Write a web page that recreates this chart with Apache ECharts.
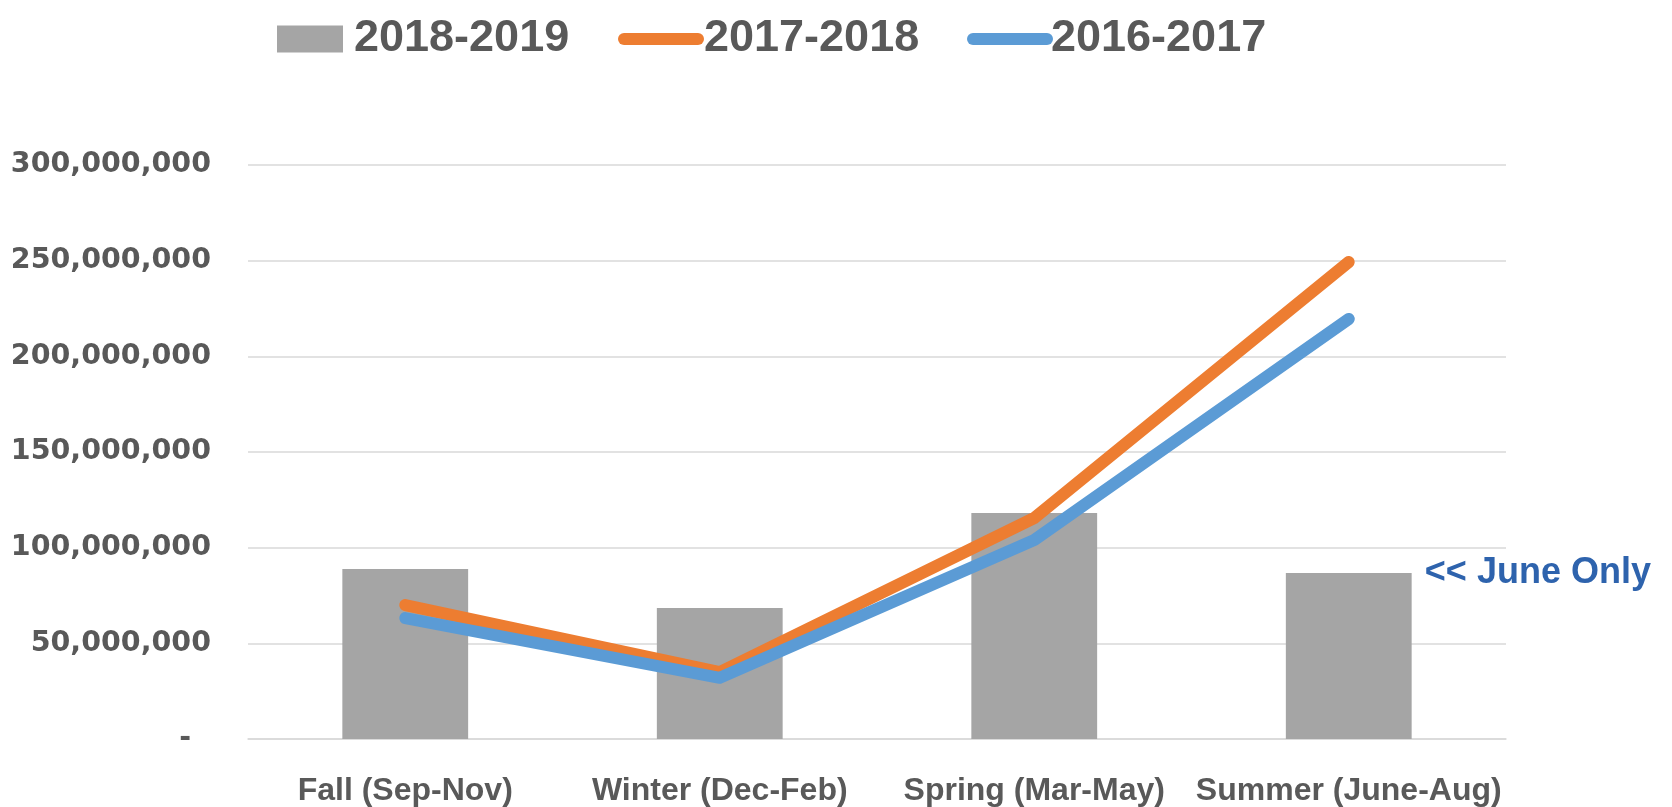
<!DOCTYPE html>
<html>
<head>
<meta charset="utf-8">
<title>Seasonal totals</title>
<script src="https://cdn.jsdelivr.net/npm/echarts@6/dist/echarts.min.js"></script>
<style>
html, body { margin: 0; padding: 0; background: #fff; }
#chart { width: 1672px; height: 807px; }
</style>
</head>
<body>
<div id="chart"></div>
<script>
var categories = ['Fall (Sep-Nov)', 'Winter (Dec-Feb)', 'Spring (Mar-May)', 'Summer (June-Aug)'];
var values2018 = [88800000, 68500000, 118100000, 86800000];
var values2017 = [70000000, 35000000, 115500000, 249300000];
var values2016 = [63200000, 32000000, 104000000, 219500000];
var yTicks = [0, 50000000, 100000000, 150000000, 200000000, 250000000, 300000000];
var noteText = '<< June Only';

var textGray = '#595959';
var gridGray = '#D9D9D9';
var lineIcon = 'path://M6,0 H80 A6,6 0 0 1 80,12 H6 A6,6 0 0 1 6,0 Z';

function buildBarData() {
    var data = [];
    for (var i = 0; i < values2018.length; i++) {
        var item = {value: values2018[i]};
        if (i == values2018.length - 1) {
            // note sits just right of the last bar, level with its top
            item.label = {
                show: true,
                position: [139, 0],
                align: 'left',
                verticalAlign: 'middle',
                formatter: noteText,
                color: '#2E63AD',
                fontFamily: 'Liberation Sans, Arial, sans-serif',
                fontWeight: 'bold',
                fontSize: 36
            };
        }
        data.push(item);
    }
    return data;
}

function legendItem(name, left, width, height, icon, textGap) {
    return {
        data: [{name: name, icon: icon}],
        left: left,
        top: 30 - Math.max(height, 27) / 2,
        itemWidth: width,
        itemHeight: height,
        itemGap: 0,
        padding: 0,
        textStyle: {
            color: textGray,
            fontFamily: 'Liberation Sans, Arial, sans-serif',
            fontWeight: 'bold',
            fontSize: 45,
            padding: [0, 0, 0, textGap]
        }
    };
}

var chart = echarts.init(document.getElementById('chart'));

var option = {
    animation: false,
    legend: [
        legendItem('2018-2019', 277, 66, 27, 'rect', 6),
        legendItem('2017-2018', 618, 86, 12, lineIcon, -5),
        legendItem('2016-2017', 967, 86, 12, lineIcon, -7)
    ],
    grid: {left: 248, right: 166, top: 165, bottom: 68, containLabel: false},
    xAxis: {
        type: 'category',
        data: categories,
        axisTick: {show: false},
        axisLine: {lineStyle: {color: gridGray, width: 1.5}},
        axisLabel: {
            interval: 0,
            margin: 36,
            color: textGray,
            fontFamily: 'Liberation Sans, Arial, sans-serif',
            fontWeight: 'bold',
            fontSize: 32
        }
    },
    yAxis: {
        type: 'value',
        min: yTicks[0],
        max: yTicks[yTicks.length - 1],
        interval: yTicks[1] - yTicks[0],
        axisLine: {show: false},
        axisTick: {show: false},
        splitLine: {lineStyle: {color: gridGray, width: 1.5}},
        axisLabel: {
            margin: 37,
            color: textGray,
            fontFamily: 'DejaVu Sans, Verdana, sans-serif',
            fontWeight: 'bold',
            fontSize: 28.5,
            formatter: function (value) {
                if (value == 0) {
                    return '-  ';
                }
                return value.toLocaleString('en-US');
            }
        }
    },
    series: [
        {
            name: '2018-2019',
            type: 'bar',
            barWidth: '40%',
            itemStyle: {color: '#A5A5A5'},
            data: buildBarData()
        },
        {
            name: '2017-2018',
            type: 'line',
            showSymbol: false,
            symbol: 'none',
            itemStyle: {color: '#ED7D31'},
            lineStyle: {color: '#ED7D31', width: 12, cap: 'round', join: 'round'},
            data: values2017
        },
        {
            name: '2016-2017',
            type: 'line',
            showSymbol: false,
            symbol: 'none',
            itemStyle: {color: '#5B9BD5'},
            lineStyle: {color: '#5B9BD5', width: 12, cap: 'round', join: 'round'},
            data: values2016
        }
    ]
};

chart.setOption(option);
</script>
</body>
</html>
